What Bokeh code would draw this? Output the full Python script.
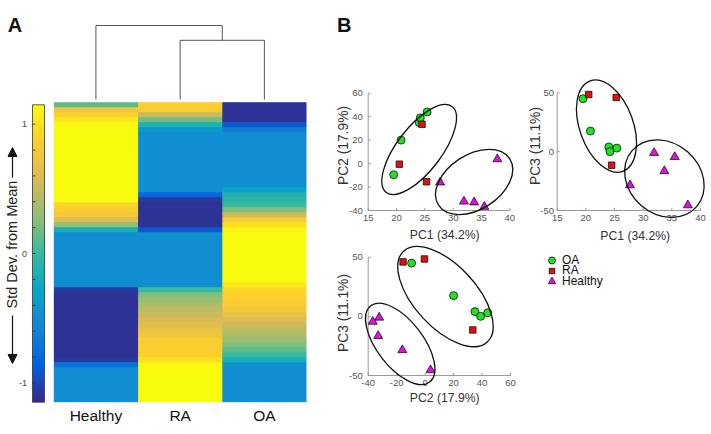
import numpy as np
from math import pi
from bokeh.plotting import figure
from bokeh.models import Range1d, LinearColorMapper, Arrow, NormalHead
from bokeh.embed import file_html
from bokeh.resources import INLINE
from bokeh.core.properties import value

# ------------------------------------------------------------------ data
conditions = ["Healthy", "RA", "OA"]

# heatmap: std. dev. from mean, 60 rows listed top -> bottom
healthy_sd = [0.12, 0.74, 0.87, 1.01, 1.13,
              1.15, 1.15, 1.15, 1.15, 1.15, 1.15, 1.15, 1.15, 1.15, 1.15,
              1.15, 1.15, 1.15, 1.15, 1.15,
              0.92, 0.85, 0.78, 0.60, 0.28, -0.18,
              -0.51, -0.51, -0.51, -0.51, -0.51, -0.51, -0.51, -0.51, -0.51, -0.51, -0.51,
              -1.06,
              -1.10, -1.10, -1.10, -1.10, -1.10, -1.10, -1.10, -1.10, -1.10, -1.10,
              -1.10, -1.10, -1.10,
              -1.08, -0.74,
              -0.51, -0.51, -0.51, -0.51, -0.51, -0.51, -0.51]
ra_sd = [0.87, 0.83, 0.51, 0.18, -0.12, -0.39,
         -0.51, -0.51, -0.51, -0.51, -0.51, -0.51, -0.51, -0.51, -0.51, -0.51, -0.51, -0.51,
         -0.81, -1.08,
         -1.10, -1.10, -1.10, -1.10, -1.10,
         -0.92,
         -0.51, -0.51, -0.51, -0.51, -0.51, -0.51, -0.51, -0.51, -0.51, -0.51, -0.51,
         0.00, 0.23, 0.32, 0.39, 0.46, 0.51, 0.58, 0.64, 0.69, 0.76, 0.83, 0.85,
         0.85, 0.87, 0.97, 1.13,
         1.15, 1.15, 1.15, 1.15, 1.15, 1.15, 1.15]
oa_sd = [-1.10, -1.10, -1.10, -1.10, -0.92, -0.64,
         -0.51, -0.51, -0.51, -0.51, -0.51, -0.51, -0.51, -0.51, -0.51, -0.51, -0.51,
         -0.35, -0.12, -0.07, 0.00, 0.23, 0.53, 0.81, 0.97, 1.10,
         1.15, 1.15, 1.15, 1.15, 1.15, 1.15, 1.15, 1.15, 1.15, 1.15,
         1.04, 0.92, 0.87, 0.85, 0.83, 0.78, 0.69, 0.60, 0.53, 0.46, 0.39, 0.32,
         0.23, 0.12, 0.00, -0.18, -0.46,
         -0.51, -0.51, -0.51, -0.51, -0.51, -0.51, -0.51]
color_limits = [-1.15, 1.15]
cbar_tick_marks = [-1.0, -0.8, -0.6, -0.4, -0.2, 0.0, 0.2, 0.4, 0.6, 0.8, 1.0]
cbar_tick_labels = [-1, 0, 1]

# dendrogram linkage: (cluster a, cluster b, merge height); new ids start at 3
dend_linkage = [(1, 2, 0.80), (0, 3, 1.00)]

# PCA scores
groups = ["OA", "RA", "Healthy"]
oa_pc1 = [19.5, 20.8, 24.0, 24.2, 25.4]
oa_pc2 = [-9.5, 20.0, 35.0, 39.0, 44.0]
oa_pc3 = [45.0, 17.5, 4.0, 0.0, 3.0]
ra_pc1 = [20.5, 24.5, 25.3]
ra_pc2 = [-0.5, 33.5, -15.5]
ra_pc3 = [48.5, -11.5, 46.0]
healthy_pc1 = [27.7, 31.9, 33.7, 35.5, 37.8]
healthy_pc2 = [-16.0, -32.3, -33.0, -36.8, 3.8]
healthy_pc3 = [-28.5, -1.0, -16.5, -4.5, -45.5]

# confidence ellipses (center, width, height in data units, angle in rad)
ell_pc1_pc2 = dict(x=[24.0, 33.7], y=[12.0, -15.7], w=[19.1, 15.0], h=[37.9, 46.5], a=[0.918, 0.576])
ell_pc1_pc3 = dict(x=[23.6, 33.7], y=[21.7, -22.9], w=[16.8, 14.9], h=[45.5, 60.3], a=[-1.225, -0.714])
ell_pc2_pc3 = dict(x=[14.3, -17.5], y=[16.7, -23.3], w=[86.7, 67.7], h=[52.6, 39.1], a=[-0.826, -0.913])

pc1_ticks = [15, 20, 25, 30, 35, 40]
pc2_ticks = [-40, -20, 0, 20, 40, 60]
pc3_ticks = [-50, 0, 50]

# ------------------------------------------------------------------ style
FONT = value("Liberation Sans")
parula_stops = ["#352a87", "#0363e1", "#1485d4", "#06a7c6", "#38b99e",
                "#92bf73", "#d9ba56", "#fcce2e", "#f9fb0e"]
_st = np.array([[int(h[i:i + 2], 16) for i in (1, 3, 5)] for h in parula_stops], float)
_pos = np.linspace(0, 1, len(_st))
parula = ["#%02x%02x%02x" % tuple(int(round(np.interp(t, _pos, _st[:, k]))) for k in range(3))
          for t in np.linspace(0, 1, 256)]

W, H = 711, 434
X0, X1, Y0, Y1 = 0, W, 0, H


def xmap(d0, d1, p0, p1):
    u = (d1 - d0) / (p1 - p0)
    return Range1d(d0 - (p0 - X0) * u, d1 + (X1 - p1) * u)


def ymap(d0, d1, p0, p1):
    u = (d1 - d0) / (p0 - p1)
    return Range1d(d0 - (Y1 - p0) * u, d1 + (p1 - Y0) * u)


p = figure(width=W, height=H, x_range=Range1d(X0, X1), y_range=Range1d(Y1, Y0),
           output_backend="svg", toolbar_location=None,
           x_axis_location=None, y_axis_location=None, min_border=0)
p.outline_line_color = None
p.xgrid.visible = False
p.ygrid.visible = False
p.background_fill_color = "white"
p.border_fill_color = "white"

p.extra_x_ranges = {
    "hx": xmap(0, 3, 53.3, 306.0),
    "cx": xmap(0, 1, 32.0, 44.0),
    "s1x": xmap(15, 40, 367.7, 509.3),
    "s2x": xmap(15, 40, 556.7, 700.0),
    "s3x": xmap(-40, 60, 367.7, 510.0),
}
p.extra_y_ranges = {
    "hy": ymap(0, len(healthy_sd), 401.7, 101.7),
    "dy": ymap(0, 1, 99.0, 25.0),
    "cy": ymap(color_limits[0], color_limits[1], 401.7, 104.3),
    "s1y": ymap(-40, 60, 210.0, 92.7),
    "s2y": ymap(-50, 50, 210.0, 92.3),
    "s3y": ymap(-50, 50, 375.0, 256.7),
}

# ------------------------------------------------------------------ panel A
mapper = LinearColorMapper(palette=parula, low=color_limits[0], high=color_limits[1])
img = np.array([healthy_sd, ra_sd, oa_sd]).T[::-1]
p.image(image=[img], x=0, y=0, dw=len(conditions), dh=img.shape[0], color_mapper=mapper,
        x_range_name="hx", y_range_name="hy")

node_x = [i + 0.5 for i in range(len(conditions))]
node_h = [0.0] * len(conditions)
dxs, dys = [], []
for a, b, hgt in dend_linkage:
    dxs.append([node_x[a], node_x[a], node_x[b], node_x[b]])
    dys.append([node_h[a], hgt, hgt, node_h[b]])
    node_x.append((node_x[a] + node_x[b]) / 2)
    node_h.append(hgt)
p.multi_line(dxs, dys, line_color="#555555", line_width=1, x_range_name="hx", y_range_name="dy")

cb = np.linspace(color_limits[0], color_limits[1], 256).reshape(-1, 1)
p.image(image=[cb], x=0, y=color_limits[0], dw=1, dh=color_limits[1] - color_limits[0],
        color_mapper=mapper, x_range_name="cx", y_range_name="cy")
p.quad(left=0, right=1, bottom=color_limits[0], top=color_limits[1], fill_color=None,
       line_color="#333333", line_width=0.8, x_range_name="cx", y_range_name="cy")
p.segment(x0=0, x1=0.25, y0=cbar_tick_marks, y1=cbar_tick_marks, line_color="#333333",
          line_width=0.8, x_range_name="cx", y_range_name="cy")
p.text(x=[26.5] * len(cbar_tick_labels), y=cbar_tick_labels, text=[str(t) for t in cbar_tick_labels],
       text_align="right", text_baseline="middle", text_font=FONT, text_font_size=value("9px"),
       text_color="#444444", y_range_name="cy")

p.text(x=[11], y=[244], text=["Std Dev. from Mean"], angle=pi / 2, text_align="center",
       text_baseline="middle", text_font=FONT, text_font_size=value("14.5px"), text_color="#222222")
for ys, ye in [(177, 147), (315, 363)]:
    p.add_layout(Arrow(end=NormalHead(size=9, fill_color="#111111", line_color="#111111"),
                       x_start=12, y_start=ys, x_end=12, y_end=ye,
                       line_color="#111111", line_width=1.2))

p.text(x=[i + 0.5 for i in range(len(conditions))], y=[415] * len(conditions), text=conditions,
       text_align="center", text_baseline="middle", text_font=FONT, text_font_size=value("15.5px"),
       text_color="#111111", x_range_name="hx")

p.text(x=[7.3, 336.5], y=[24.5, 24.5], text=["A", "B"], text_align="left", text_baseline="alphabetic",
       text_font=FONT, text_font_size=value("20px"), text_font_style="bold", text_color="#111111")

# ------------------------------------------------------------------ panel B
scores = {
    "OA": {"pc1": oa_pc1, "pc2": oa_pc2, "pc3": oa_pc3},
    "RA": {"pc1": ra_pc1, "pc2": ra_pc2, "pc3": ra_pc3},
    "Healthy": {"pc1": healthy_pc1, "pc2": healthy_pc2, "pc3": healthy_pc3},
}
gstyle = {
    "OA": dict(marker="circle", color="#22e022", size=8),
    "RA": dict(marker="square", color="#e01010", size=6.5),
    "Healthy": dict(marker="triangle", color="#e010e0", size=9),
}

panels = [
    dict(xr="s1x", yr="s1y", xk="pc1", yk="pc2", xt=pc1_ticks, yt=pc2_ticks,
         xlabel="PC1 (34.2%)", ylabel="PC2 (17.9%)", ell=ell_pc1_pc2,
         box=(367.7, 509.3, 210.0, 92.7), xlab=(444.2, 234.5), ylab=(342.5, 145.0), ytl=362.3, xtl=217.0),
    dict(xr="s2x", yr="s2y", xk="pc1", yk="pc3", xt=pc1_ticks, yt=pc3_ticks,
         xlabel="PC1 (34.2%)", ylabel="PC3 (11.1%)", ell=ell_pc1_pc3,
         box=(556.7, 700.0, 210.0, 92.3), xlab=(634.7, 235.0), ylab=(535.0, 145.5), ytl=553.5, xtl=217.0),
    dict(xr="s3x", yr="s3y", xk="pc2", yk="pc3", xt=pc2_ticks, yt=pc3_ticks,
         xlabel="PC2 (17.9%)", ylabel="PC3 (11.1%)", ell=ell_pc2_pc3,
         box=(367.7, 510.0, 375.0, 256.7), xlab=(444.2, 397.5), ylab=(342.5, 312.5), ytl=362.3, xtl=382.5),
]

AX = "#8f8f8f"
for pn in panels:
    xr, yr = pn["xr"], pn["yr"]
    xt, yt = pn["xt"], pn["yt"]
    l, r, b, t = pn["box"]
    ux = (xt[-1] - xt[0]) / (r - l)
    uy = (yt[-1] - yt[0]) / (b - t)
    # axis lines
    p.segment(x0=[xt[0], xt[0]], y0=[yt[0], yt[0]], x1=[xt[0], xt[-1]], y1=[yt[-1], yt[0]],
              line_color=AX, line_width=0.9, x_range_name=xr, y_range_name=yr)
    # inward ticks
    p.segment(x0=xt[0], x1=xt[0] + 2.5 * ux, y0=yt, y1=yt, line_color=AX, line_width=0.9,
              x_range_name=xr, y_range_name=yr)
    p.segment(x0=xt, x1=xt, y0=yt[0], y1=yt[0] + 2.5 * uy, line_color=AX, line_width=0.9,
              x_range_name=xr, y_range_name=yr)
    # tick labels
    p.text(x=[pn["ytl"]] * len(yt), y=yt, text=[str(v) for v in yt], text_align="right",
           text_baseline="middle", text_font=FONT, text_font_size=value("9.5px"),
           text_color="#555555", y_range_name=yr)
    p.text(x=xt, y=[pn["xtl"]] * len(xt), text=[str(v) for v in xt], text_align="center",
           text_baseline="middle", text_font=FONT, text_font_size=value("9.5px"),
           text_color="#555555", x_range_name=xr)
    # axis labels
    p.text(x=[pn["xlab"][0]], y=[pn["xlab"][1]], text=[pn["xlabel"]], text_align="center",
           text_baseline="middle", text_font=FONT, text_font_size=value("12.2px"), text_color="#333333")
    p.text(x=[pn["ylab"][0]], y=[pn["ylab"][1]], text=[pn["ylabel"]], angle=pi / 2, text_align="center",
           text_baseline="middle", text_font=FONT, text_font_size=value("13.8px"), text_color="#333333")
    # points
    for g in groups:
        st = gstyle[g]
        p.scatter(x=scores[g][pn["xk"]], y=scores[g][pn["yk"]], marker=st["marker"], size=st["size"],
                  fill_color=st["color"], line_color="#000000", line_width=0.7,
                  x_range_name=xr, y_range_name=yr)
    # ellipses
    e = pn["ell"]
    p.ellipse(x=e["x"], y=e["y"], width=e["w"], height=e["h"], angle=e["a"], fill_color=None,
              line_color="#111111", line_width=1.3, x_range_name=xr, y_range_name=yr)

# legend
leg_y = [260.0, 270.5, 281.0]
leg_size = {"OA": 7, "RA": 5.5, "Healthy": 7.5}
for g, yy in zip(groups, leg_y):
    st = gstyle[g]
    p.scatter(x=[551.5], y=[yy], marker=st["marker"], size=leg_size[g], fill_color=st["color"],
              line_color="#000000", line_width=0.7)
p.text(x=[561.5] * len(groups), y=[yy - 0.8 for yy in leg_y], text=groups, text_align="left",
       text_baseline="middle", text_font=FONT, text_font_size=value("12px"), text_color="#111111")

open("out.html", "w").write(file_html(p, INLINE))
